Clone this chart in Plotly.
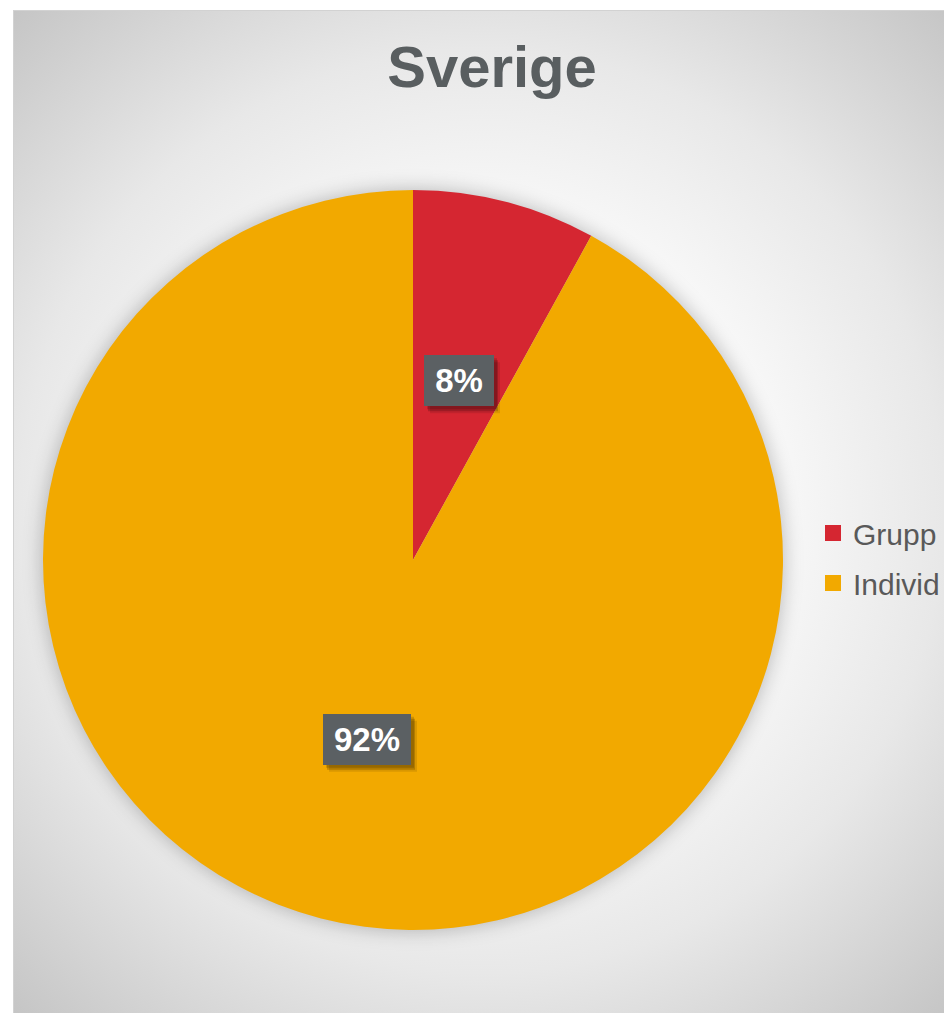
import base64
import math
import plotly.graph_objects as go

# ---- data ----
categories = ["Grupp", "Individ"]
values = [8, 92]
label_texts = ["8%", "92%"]
colors = ["#D52631", "#F2A900"]
title_text = "Sverige"

# ---- geometry (figure pixels; page has an 8px body margin) ----
W, H = 952, 1013
OFF = 8
CX, CY, R = 413 - OFF, 560 - OFF, 370
BX, BY = 13 - OFF, 10 - OFF

svg = f'''<svg xmlns="http://www.w3.org/2000/svg" width="{W}" height="{H}" viewBox="0 0 {W} {H}">
<defs>
<radialGradient id="g" gradientUnits="userSpaceOnUse" cx="{482 - OFF}" cy="{511 - OFF}" r="700">
<stop offset="0" stop-color="#ffffff"/>
<stop offset="0.42" stop-color="#f8f8f8"/>
<stop offset="0.66" stop-color="#e8e8e8"/>
<stop offset="1" stop-color="#c3c3c3"/>
</radialGradient>
<filter id="b" x="-20%" y="-20%" width="140%" height="140%"><feGaussianBlur stdDeviation="9"/></filter>
</defs>
<rect width="{W}" height="{H}" fill="#ffffff"/>
<rect x="{BX + 0.5}" y="{BY + 0.5}" width="1000" height="1100" fill="url(#g)" stroke="#d2d2d2" stroke-width="1"/>
<circle cx="{CX}" cy="{CY}" r="{R + 2}" fill="#000000" fill-opacity="0.22" filter="url(#b)"/>
</svg>'''
src = "data:image/svg+xml;base64," + base64.b64encode(svg.encode()).decode()

FONT = "Liberation Sans, Arial"

fig = go.Figure()
fig.add_trace(go.Pie(
    labels=categories,
    values=values,
    marker=dict(colors=colors, line=dict(width=0)),
    sort=False,
    direction="clockwise",
    rotation=0,
    textinfo="none",
    hoverinfo="label+percent",
    showlegend=False,
    domain=dict(x=[(CX - R) / W, (CX + R) / W], y=[1 - (CY + R) / H, 1 - (CY - R) / H]),
))

# legend entries (square markers, one group per category for spacing)
for cat, col in zip(categories, colors):
    fig.add_trace(go.Scatter(
        x=[None], y=[None], mode="markers", name=cat, legendgroup=cat,
        marker=dict(symbol="square", size=16, color=col), showlegend=True,
    ))

# data labels positioned at mid-angle of each slice
total = sum(values)
cum = 0
annotations = []
shapes = []
BOX_H = 51
for v, t in zip(values, label_texts):
    ang = 2 * math.pi * (cum + v / 2) / total
    cum += v
    px = CX + 0.5 * R * math.sin(ang)
    py = CY - 0.5 * R * math.cos(ang)
    ax, ay = px / W, 1 - py / H
    w = 18 * len(t) + 26
    # soft drop shadow behind the label box
    for (dx, dy, op) in [(6, 7, 0.10), (4, 5, 0.18), (3, 3, 0.15)]:
        shapes.append(dict(type="rect", xref="paper", yref="paper", layer="above",
                           xsizemode="pixel", ysizemode="pixel", xanchor=ax, yanchor=ay,
                           x0=-(w + 8) / 2 + dx, x1=(w + 8) / 2 + dx,
                           y0=-BOX_H / 2 - dy, y1=BOX_H / 2 - dy,
                           fillcolor=f"rgba(0,0,0,{op})", line=dict(width=0)))
    annotations.append(dict(text=t, x=ax, y=ay, xref="paper", yref="paper", showarrow=False,
                            width=w, height=43, borderpad=4, borderwidth=0,
                            xanchor="center", yanchor="middle",
                            bgcolor="#5B6063", bordercolor="rgba(0,0,0,0)",
                            font=dict(size=33, color="#ffffff", family=FONT, weight="bold")))

fig.update_layout(
    width=W, height=H,
    margin=dict(l=0, r=0, t=0, b=0),
    paper_bgcolor="#ffffff",
    plot_bgcolor="rgba(0,0,0,0)",
    xaxis=dict(visible=False),
    yaxis=dict(visible=False),
    images=[dict(source=src, xref="paper", yref="paper", x=0, y=1, sizex=1, sizey=1,
                 xanchor="left", yanchor="top", sizing="stretch", layer="below")],
    title=dict(text=title_text, x=(492 - OFF) / W, xanchor="center", y=1 - (67 - OFF) / H, yanchor="middle",
               font=dict(size=58, color="#595E60", family=FONT, weight="bold")),
    showlegend=True,
    legend=dict(x=(813 - OFF) / W, xanchor="left", y=1 - (558 - OFF) / H, yanchor="middle",
                tracegroupgap=8, itemsizing="trace",
                bgcolor="rgba(0,0,0,0)", font=dict(size=30, color="#595959", family=FONT)),
    shapes=shapes,
    annotations=annotations,
)

fig.write_html("out.html")
